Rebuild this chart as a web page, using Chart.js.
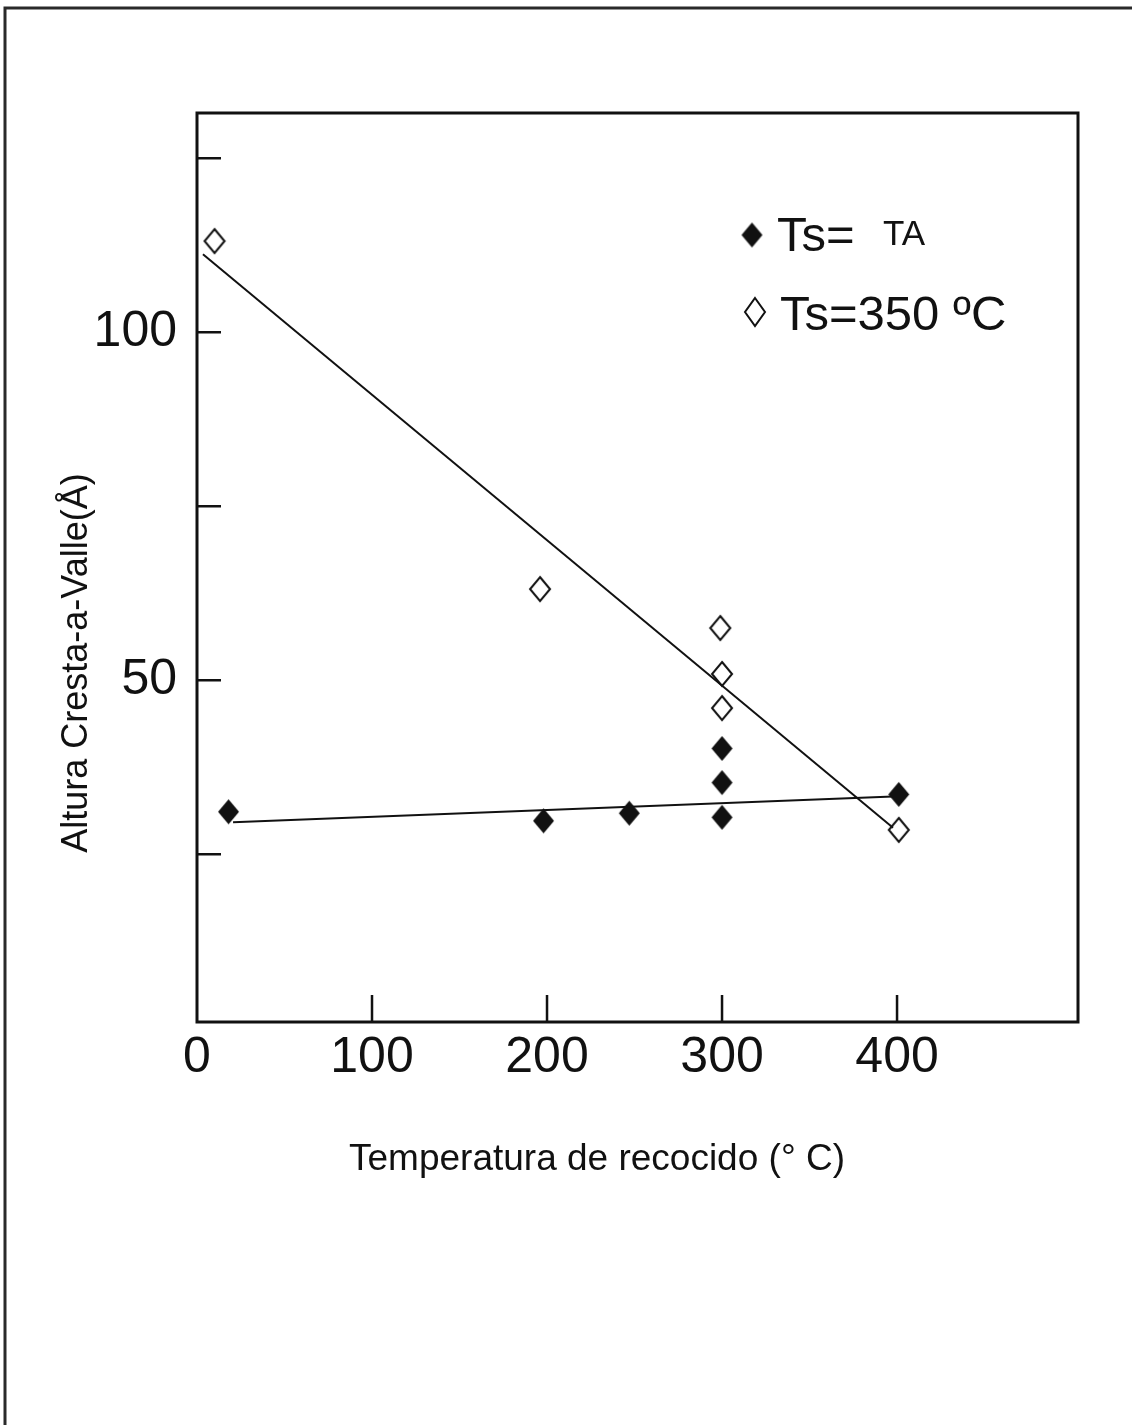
<!DOCTYPE html>
<html>
<head>
<meta charset="utf-8">
<title>Altura cresta-a-valle vs temperatura de recocido</title>
<script src="https://cdn.jsdelivr.net/npm/chart.js@4.4.0/dist/chart.umd.min.js"></script>
<style>
  html, body { margin: 0; padding: 0; background: #fff; }
</style>
</head>
<body>
<canvas id="rugosidad" width="1132" height="1425"></canvas>
<script>
// muestras depositadas a temperatura ambiente
const tempTA   = [18, 198, 247, 300, 300, 300, 401];
const alturaTA = [31.1, 29.8, 30.9, 30.3, 35.3, 40.2, 33.6];
// muestras depositadas a 350 ºC
const temp350   = [10, 196, 299, 300, 300, 401];
const altura350 = [113.1, 63.1, 57.5, 50.9, 46.0, 28.5];
// rectas de ajuste (extremos)
const ajusteTAx  = [20.6, 397.7];
const ajusteTAy  = [29.6, 33.3];
const ajuste350x = [3.4, 397.7];
const ajuste350y = [111.2, 28.8];
// marcas de los ejes
const xTicks = [0, 100, 200, 300, 400];
const yTicks = [25, 50, 75, 100, 125];
const yLabeled = [50, 100];

const FONT = '"Liberation Sans", Arial, sans-serif';
const INK = '#111';

function pts(xs, ys) { return xs.map((v, i) => ({ x: v, y: ys[i] })); }

// rombo algo mas alto que ancho, como en la figura impresa
function rombo(w, h, relleno) {
  const c = document.createElement('canvas');
  c.width = w + 4; c.height = h + 4;
  const g = c.getContext('2d');
  const cx = c.width / 2, cy = c.height / 2;
  g.beginPath();
  g.moveTo(cx, cy - h / 2);
  g.lineTo(cx + w / 2, cy);
  g.lineTo(cx, cy + h / 2);
  g.lineTo(cx - w / 2, cy);
  g.closePath();
  if (relleno) { g.fillStyle = INK; g.fill(); }
  else { g.fillStyle = '#fff'; g.fill(); g.lineWidth = 2; g.strokeStyle = INK; g.stroke(); }
  return c;
}
const romboLleno = rombo(21, 25, true);
const romboVacio = rombo(20, 24, false);

const decorado = {
  id: 'decorado',
  afterDraw(chart) {
    const { ctx, chartArea: a, scales: { x, y } } = chart;
    ctx.save();

    // marco exterior
    ctx.strokeStyle = '#2a2a2a';
    ctx.lineWidth = 3;
    ctx.beginPath();
    ctx.moveTo(5, 1425); ctx.lineTo(5, 8); ctx.lineTo(1132, 8);
    ctx.stroke();

    // caja del grafico
    ctx.strokeStyle = INK;
    ctx.lineWidth = 3;
    ctx.strokeRect(a.left, a.top, a.right - a.left, a.bottom - a.top);

    // marcas hacia dentro
    ctx.lineWidth = 2.5;
    ctx.beginPath();
    yTicks.forEach(v => {
      const py = y.getPixelForValue(v);
      ctx.moveTo(a.left, py); ctx.lineTo(a.left + 24, py);
    });
    xTicks.slice(1).forEach(v => {
      const px = x.getPixelForValue(v);
      ctx.moveTo(px, a.bottom); ctx.lineTo(px, a.bottom - 27);
    });
    ctx.stroke();

    // leyenda
    ctx.fillStyle = INK;
    ctx.textBaseline = 'alphabetic';
    ctx.textAlign = 'left';
    ctx.drawImage(romboLleno, 752 - romboLleno.width / 2, 235 - romboLleno.height / 2);
    ctx.font = '49px ' + FONT;
    ctx.fillText('Ts=', 777, 251);
    ctx.font = '35px ' + FONT;
    ctx.fillText('TA', 883, 245);
    const legVacio = rombo(20, 28, false);
    ctx.drawImage(legVacio, 755 - legVacio.width / 2, 312 - legVacio.height / 2);
    ctx.fillStyle = INK;
    ctx.font = '49px ' + FONT;
    ctx.fillText('Ts=350 ºC', 780, 330);

    // titulos de los ejes
    ctx.font = '37px ' + FONT;
    ctx.textAlign = 'center';
    ctx.fillText('Temperatura de recocido (° C)', 597, 1170);
    ctx.translate(87, 663);
    ctx.rotate(-Math.PI / 2);
    ctx.font = '36px ' + FONT;
    ctx.fillText('Altura Cresta-a-Valle(Å)', 0, 0);

    ctx.restore();
  }
};

new Chart(document.getElementById('rugosidad'), {
  type: 'scatter',
  data: {
    datasets: [
      {
        label: 'ajuste TA',
        data: pts(ajusteTAx, ajusteTAy),
        showLine: true,
        borderColor: INK,
        borderWidth: 2,
        pointRadius: 0
      },
      {
        label: 'ajuste 350',
        data: pts(ajuste350x, ajuste350y),
        showLine: true,
        borderColor: INK,
        borderWidth: 2,
        pointRadius: 0
      },
      {
        label: 'Ts= TA',
        data: pts(tempTA, alturaTA),
        pointStyle: romboLleno,
        pointRadius: 12
      },
      {
        label: 'Ts=350 ºC',
        data: pts(temp350, altura350),
        pointStyle: romboVacio,
        pointRadius: 12
      }
    ]
  },
  options: {
    responsive: false,
    animation: false,
    layout: { padding: { left: 0, top: 113, right: 54, bottom: 0 } },
    plugins: { legend: { display: false }, tooltip: { enabled: false } },
    scales: {
      x: {
        type: 'linear',
        min: 0,
        max: 503.4,
        grid: { display: false, drawTicks: false },
        border: { display: false },
        afterFit(s) { s.height = 403; },
        afterBuildTicks(s) { s.ticks = xTicks.map(v => ({ value: v })); },
        ticks: {
          autoSkip: false,
          maxRotation: 0,
          padding: 6,
          color: INK,
          font: { family: FONT, size: 50 }
        }
      },
      y: {
        type: 'linear',
        min: 0.9,
        max: 131.5,
        grid: { display: false, drawTicks: false },
        border: { display: false },
        afterFit(s) { s.width = 197; },
        afterBuildTicks(s) { s.ticks = yTicks.map(v => ({ value: v })); },
        ticks: {
          autoSkip: false,
          padding: 20,
          color: INK,
          font: { family: FONT, size: 50 },
          callback: v => yLabeled.includes(v) ? String(v) : ''
        }
      }
    }
  },
  plugins: [decorado]
});
</script>
</body>
</html>
